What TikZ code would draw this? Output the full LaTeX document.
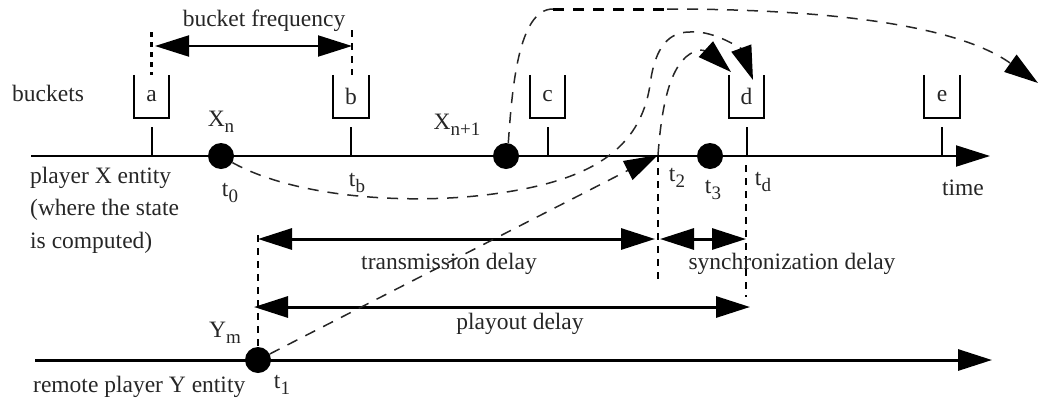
\documentclass[tikz,border=0pt]{standalone}
\usepackage{fontspec}
\setmainfont{Liberation Serif}
\usetikzlibrary{arrows.meta, positioning}

\newcommand{\lowidx}[1]{\raisebox{-6pt}{\fontsize{19}{19}\selectfont #1}}

\begin{document}
\begin{tikzpicture}[
        x=1pt, y=-1pt,
        font=\fontsize{23.5}{28}\selectfont,
        % Global Styles
        label/.style={inner sep=0pt, text=black!85},
        bucket/.style={minimum width=35pt, minimum height=43pt, inner sep=0pt, text=black!85},
        bucketline/.style={draw, line width=2.2pt},
        tickline/.style={draw, line width=2pt},
        dot/.style={circle, fill=black, minimum size=26pt, inner sep=0pt},
        axis/.style={draw, line width=2pt, -{Triangle[length=34pt, width=21pt]}},
        span/.style={draw, line width=2pt, {Triangle[length=34pt, width=21pt]}-{Triangle[length=34pt, width=21pt]}},
        guide/.style={draw, line width=1.8pt, dash pattern=on 7pt off 6pt},
        msg/.style={draw, black!85, line width=1.5pt, dash pattern=on 11pt off 9pt},
        msgtip/.style={msg, -{Triangle[length=34pt, width=21pt, color=black]}}
    ]
    \useasboundingbox (0,0) rectangle (1038,402);

    % --- Time axes ---
    \coordinate (xstart) at (31,156);
    \coordinate (xend) at (990,156);
    \coordinate (ystart) at (35,360);
    \coordinate (yend) at (992,360);
    \draw [axis] (xstart) -- (xend);
    \draw [axis, line width=3pt] (ystart) -- (yend);

    % --- Buckets ---
    \foreach \name/\xpos in {a/151.5, b/351, c/547.5, d/746.5, e/942} {
        \node [bucket] (\name) at (\xpos,96.5) {\name};
        \draw [bucketline] (\name.north west) |- (\name.south east) -- (\name.north east);
        \coordinate (tick\name) at (\xpos,127);
        \draw [tickline] (tick\name) -- (tick\name |- xstart);
    }

    % --- Events ---
    \node [dot] (xn) at (221,156) {};
    \node [dot] (xnext) at (506,156) {};
    \node [dot] (xthree) at (710,156) {};
    \node [dot] (ym) at (258,360) {};

    % --- Guides ---
    \coordinate (guidea) at (151,32);
    \coordinate (guideb) at (352,30);
    \coordinate (arrive) at (658,155);
    \coordinate (guidetwo) at (658,282);
    \coordinate (guided) at (746,165);
    \coordinate (guidedend) at (746,297);
    \coordinate (guidey) at (258,235);
    \draw [guide, line width=3pt, dash pattern=on 5pt off 5pt] (guidea) -- (a.north -| guidea);
    \draw [guide] (guideb) -- (b.north -| guideb);
    \draw [guide] (arrive) -- (guidetwo);
    \draw [guide] (guided) -- (guidedend);
    \draw [guide] (guidey) -- (ym);

    % --- Spans ---
    \draw [span] (155,46) -- (352,46);
    \draw [span, line width=3pt] (258,239) -- (655,239);
    \draw [span, line width=3pt] (660,239) -- (746,239);
    \draw [span, line width=3pt] (254,307) -- (750,307);

    % --- Messages ---
    \coordinate (toda) at (731,72);
    \coordinate (todb) at (753,80);
    \coordinate (flatstart) at (553,9);
    \coordinate (flatend) at (667,9);
    \coordinate (off) at (1038,83);
    \draw [msgtip] (xn.-30) .. controls (300,200) and (420,205) .. (500,193)
        .. controls (590,180) and (640,150) .. (650,85)
        .. controls (655,45) and (670,32) .. (690,32)
        .. controls (715,30) and (742,50) .. (todb);
    \draw [msgtip] (ym) -- (arrive);
    \draw [msgtip] (arrive) .. controls (662,100) and (672,55) .. (700,50)
        .. controls (710,50) and (720,62) .. (toda);
    \draw [msg] (xnext.80) .. controls (512,90) and (518,9) .. (flatstart);
    \draw [msg, black, line width=3pt] (flatstart) -- (flatend);
    \draw [msgtip] (flatend) .. controls (800,9) and (950,20) .. (off);

    % --- Labels ---
    \node [label] (freq) at (264,21) {bucket frequency};
    \node [label, anchor=west] (buckets) at (12,93) {buckets};
    \node [label, anchor=west] (playerx) at (30,178) {player X entity};
    \node [label, anchor=west] (where) at (30,210) {(where the state};
    \node [label, anchor=west] (computed) at (30,243) {is computed)};
    \node [label, anchor=west] (remote) at (33,387) {remote player Y entity};
    \node [label] (lxn) at (221,122) {X\lowidx{n}};
    \node [label] (lxnext) at (457,125) {X\lowidx{n+1}};
    \node [label] (lym) at (225,333) {Y\lowidx{m}};
    \node [label] (tzero) at (230,193) {t\lowidx{0}};
    \node [label] (tb) at (357,183) {t\lowidx{b}};
    \node [label] (tone) at (282,385) {t\lowidx{1}};
    \node [label] (ttwo) at (677,178) {t\lowidx{2}};
    \node [label] (tthree) at (713,190) {t\lowidx{3}};
    \node [label] (td) at (763,182) {t\lowidx{d}};
    \node [label] (ltime) at (963,188) {time};
    \node [label] (ltrans) at (449,264) {transmission delay};
    \node [label] (lsync) at (792,264) {synchronization delay};
    \node [label] (lplay) at (520,324) {playout delay};
\end{tikzpicture}
\end{document}
